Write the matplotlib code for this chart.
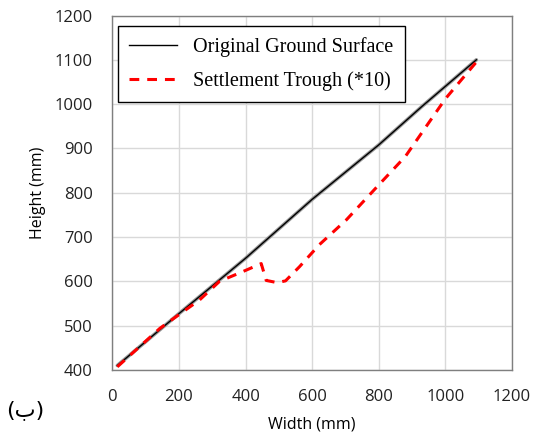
import matplotlib.pyplot as plt
import numpy as np

# data
ground_x = [15, 200, 400, 600, 800, 930, 1093]
ground_y = [410, 527, 652, 785, 908, 995, 1100]

trough_x = [15, 143, 262, 322, 392, 447, 462, 495, 520, 562, 622, 703, 793, 880, 1000, 1093]
trough_y = [407, 494, 558, 600, 622, 640, 602, 597, 601, 633, 683, 739, 812, 882, 1012, 1095]

x_ticks = [0, 200, 400, 600, 800, 1000, 1200]
y_ticks = [400, 500, 600, 700, 800, 900, 1000, 1100, 1200]

fig = plt.figure(figsize=(5.35, 4.43), dpi=100)
ax = fig.add_axes([0.210, 0.165, 0.747, 0.800])

# grey halo under the black line, like the original
ax.plot(ground_x, ground_y, color='#9a9a9a', lw=2.6, solid_capstyle='round', zorder=2)
ax.plot(ground_x, ground_y, color='black', lw=1.0, label='Original Ground Surface', zorder=3)
ax.plot(trough_x, trough_y, color='red', lw=2.2, linestyle=(0, (3.2, 2.6)),
        label='Settlement Trough (*10)', zorder=4)

ax.set_xlim(0, 1200)
ax.set_ylim(400, 1200)
ax.set_xticks(x_ticks)
ax.set_yticks(y_ticks)
ax.grid(True, color='#d9d9d9', lw=1.0)
ax.set_axisbelow(True)
ax.tick_params(axis='x', length=0, labelsize=12, pad=14)
ax.tick_params(axis='y', length=0, labelsize=12, pad=14)
for lab in ax.get_xticklabels() + ax.get_yticklabels():
    lab.set_fontfamily('Open Sans')
    lab.set_color('#222222')
for sp in ax.spines.values():
    sp.set_color('#7f7f7f')
    sp.set_linewidth(1.0)

ax.set_xlabel('Width (mm)', fontsize=11.5, family='Open Sans', labelpad=8)
ax.set_ylabel('Height (mm)', fontsize=11.5, family='Open Sans', labelpad=6)

leg = ax.legend(loc='upper left', bbox_to_anchor=(0.014, 0.971), fancybox=False,
                edgecolor='black', framealpha=1,
                prop={'family': 'Liberation Serif', 'size': 14.5},
                handlelength=2.4, borderpad=0.55, labelspacing=0.7, borderaxespad=0)
leg.get_frame().set_linewidth(1.0)

fig.text(0.048, 0.075, '(ب)', fontsize=16, family='DejaVu Sans', ha='center', va='center')

fig.savefig('out.png', dpi=100)
